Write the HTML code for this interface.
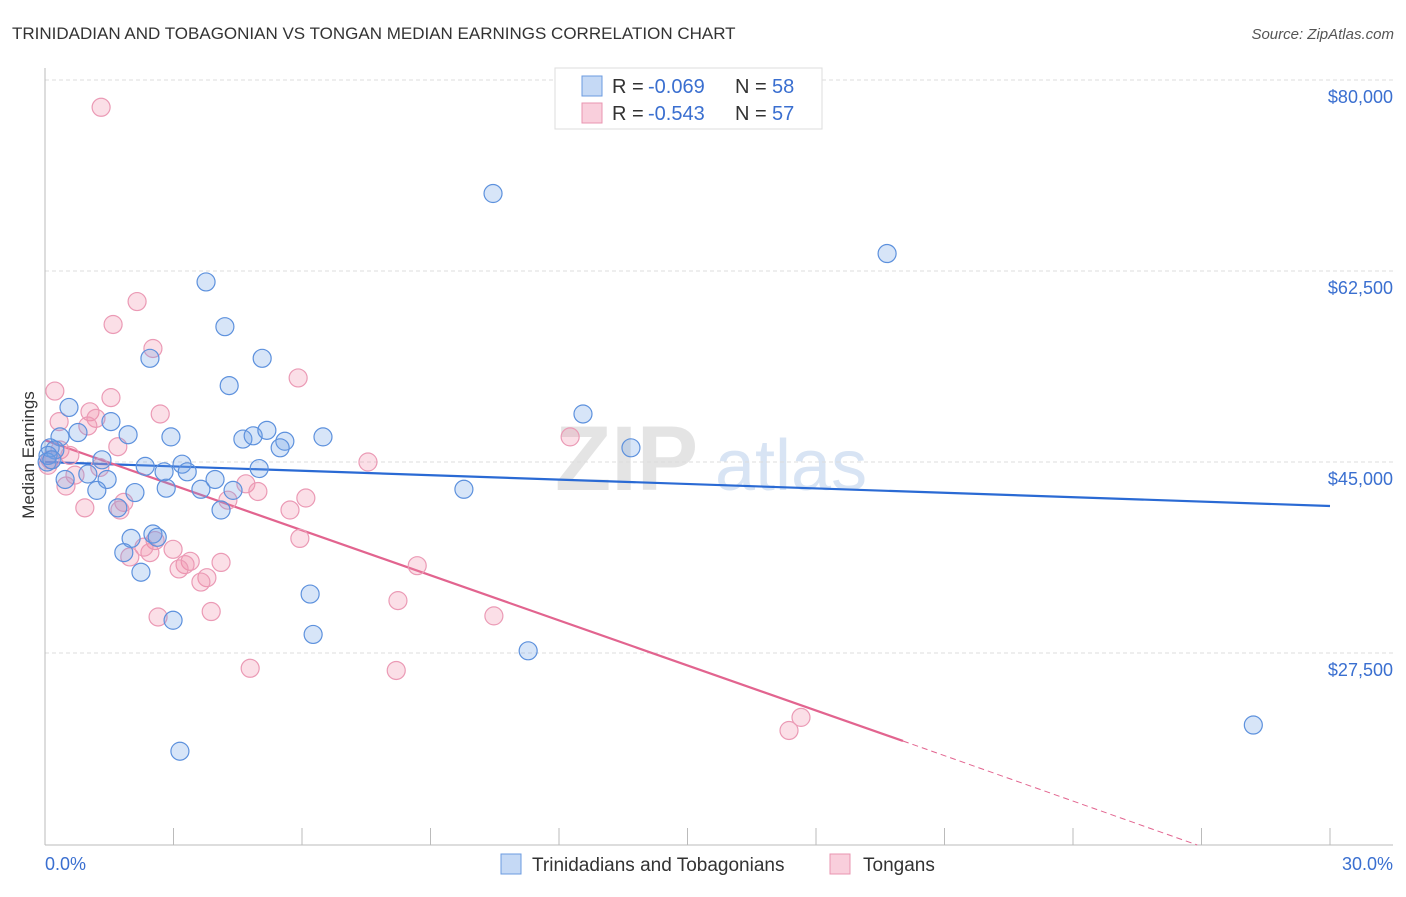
<!DOCTYPE html>
<html><head><meta charset="utf-8"><style>
body{margin:0;background:#fff;font-family:"Liberation Sans",sans-serif}
svg text{font-family:"Liberation Sans",sans-serif}
</style></head><body>
<svg width="1406" height="892" viewBox="0 0 1406 892">
<text x="12" y="39" font-size="17" fill="#333">TRINIDADIAN AND TOBAGONIAN VS TONGAN MEDIAN EARNINGS CORRELATION CHART</text>
<text x="1394" y="39" font-size="15" fill="#555" text-anchor="end" font-style="italic">Source: ZipAtlas.com</text>
<g><text x="555" y="490" font-size="92" fill="#e4e4e4" font-family="Liberation Serif" font-weight="bold">ZIP</text><text x="715" y="490" font-size="72" fill="#d8e4f4">atlas</text></g>
<g id="grid"></g><g id="axes"></g><g id="lines"></g><g id="pts"></g>
<text transform="translate(34,455) rotate(-90)" font-size="17" fill="#333" text-anchor="middle">Median Earnings</text>
<text x="45" y="870" font-size="18" fill="#3a6fd0">0.0%</text>
<text x="1393" y="870" font-size="18" fill="#3a6fd0" text-anchor="end">30.0%</text>
<g>
<rect x="555" y="68" width="267" height="61" fill="#fff" stroke="#ddd"/>
<rect x="582" y="76" width="20" height="20" fill="#c5d9f5" stroke="#6b9be0"/>
<rect x="582" y="103" width="20" height="20" fill="#f9cfdc" stroke="#e994b0"/>
<text x="612" y="93" font-size="20" fill="#333">R =</text>
<text x="648" y="93" font-size="20" fill="#3a6fd0">-0.069</text>
<text x="735" y="93" font-size="20" fill="#333">N =</text>
<text x="772" y="93" font-size="20" fill="#3a6fd0">58</text>
<text x="612" y="120" font-size="20" fill="#333">R =</text>
<text x="648" y="120" font-size="20" fill="#3a6fd0">-0.543</text>
<text x="735" y="120" font-size="20" fill="#333">N =</text>
<text x="772" y="120" font-size="20" fill="#3a6fd0">57</text>
</g>
<g>
<rect x="501" y="854" width="20" height="20" fill="#c5d9f5" stroke="#6b9be0"/>
<text x="532" y="871" font-size="19" fill="#333">Trinidadians and Tobagonians</text>
<rect x="830" y="854" width="20" height="20" fill="#f9cfdc" stroke="#e994b0"/>
<text x="863" y="871" font-size="19" fill="#333">Tongans</text>
</g>
</svg>
<script>
const yTicks=[80000,62500,45000,27500];
const yTickLabels=["$80,000","$62,500","$45,000","$27,500"];
const blueX=[10.46,19.66,3.76,4.20,2.45,5.07,4.30,0.56,1.54,12.56,1.94,0.77,0.35,2.94,4.62,4.86,5.18,5.60,5.49,6.49,13.68,0.12,0.23,1.33,2.34,3.20,2.78,3.32,5.00,1.00,1.45,0.47,3.97,4.39,2.83,3.64,1.21,2.10,9.78,1.70,4.11,2.52,2.01,2.62,1.84,2.24,6.19,2.99,6.26,11.28,28.21,3.15,0.05,0.07,0.16];
const blueY=[69600,64100,61500,57400,54500,54500,52000,50000,48700,49400,47500,47700,47300,47300,47100,47400,47900,46900,46300,47300,46300,46300,46100,45200,44600,44800,44100,44100,44400,43900,43400,43400,43400,42400,42600,42500,42400,42200,42500,40800,40600,38400,38000,38100,36700,34900,32900,30500,29200,27700,20900,18500,45000,45600,45200];
const pinkX=[1.31,2.15,1.59,2.52,5.91,0.23,1.54,0.33,1.05,1.19,2.69,1.00,0.35,0.58,1.70,12.26,7.54,0.70,0.49,0.93,1.84,1.75,4.69,4.97,4.27,6.09,5.72,5.95,2.57,2.99,2.45,1.98,2.31,3.39,3.27,4.11,3.13,3.78,3.64,2.64,3.88,8.69,8.24,10.48,4.79,8.20,17.65,17.37,0.12,0.07,1.28];
const pinkY=[77500,59700,57600,55400,52700,51500,50900,48700,49600,49000,49400,48300,46100,45600,46400,47300,45000,43800,42800,40800,41300,40600,43000,42300,41500,41700,40600,38000,37800,37000,36700,36300,37200,35900,35600,35800,35200,34400,34000,30800,31300,35500,32300,30900,26100,25900,21600,20400,45200,44700,44500];
const blueTrend=[[0,45000],[30,40970]];
const pinkTrendSolid=[[0,47000],[20.03,19440]];
const pinkTrendDash=[[20.03,19440],[26.9,9910]];
const xTicks=[0,3,6,9,12,15,18,21,24,27,30];
const X=v=>45+v/30*1285, Y=v=>80+(80000-v)*191/17500;
const NS="http://www.w3.org/2000/svg";
function mk(t,a,p){const e=document.createElementNS(NS,t);for(const k in a)e.setAttribute(k,a[k]);p.appendChild(e);return e;}
const grid=document.getElementById('grid'),axes=document.getElementById('axes'),lines=document.getElementById('lines'),pts=document.getElementById('pts');
yTicks.forEach((v,i)=>{
 const l=mk('line',{x1:45,x2:1393,y1:Y(v),y2:Y(v),stroke:'#ddd','stroke-dasharray':'4,3'},grid);
 
 
 const t=mk('text',{x:1393,y:Y(v)+23,'font-size':18,fill:'#3a6fd0','text-anchor':'end'},grid);
 t.textContent=yTickLabels[i];
 
 
});
const ya=mk('line',{x1:45,x2:45,y1:68,y2:845,stroke:'#bbb'},axes);


const xa=mk('line',{x1:45,x2:1393,y1:845,y2:845,stroke:'#bbb'},axes);


xTicks.forEach(v=>{
 const t=mk('line',{x1:X(v),x2:X(v),y1:828,y2:845,stroke:'#bbb'},axes);
 
 
});
function pt(x,y,fill,stroke,name){
 const c=mk('circle',{cx:X(x),cy:Y(y),r:9,fill:fill,stroke:stroke,'stroke-width':1.2},pts);
 
 
}
pinkX.forEach((x,i)=>pt(x,pinkY[i],'rgba(240,140,170,0.28)','#eb9ab5','tongan-point'));
blueX.forEach((x,i)=>pt(x,blueY[i],'rgba(110,160,230,0.28)','#5d91dd','trinidadian-point'));
const bl=mk('line',{x1:X(blueTrend[0][0]),y1:Y(blueTrend[0][1]),x2:X(blueTrend[1][0]),y2:Y(blueTrend[1][1]),stroke:'#2a6ad4','stroke-width':2.2},lines);


const pl=mk('line',{x1:X(pinkTrendSolid[0][0]),y1:Y(pinkTrendSolid[0][1]),x2:X(pinkTrendSolid[1][0]),y2:Y(pinkTrendSolid[1][1]),stroke:'#e2648f','stroke-width':2.2},lines);


const pd=mk('line',{x1:X(pinkTrendDash[0][0]),y1:Y(pinkTrendDash[0][1]),x2:X(pinkTrendDash[1][0]),y2:Y(pinkTrendDash[1][1]),stroke:'#e2648f','stroke-width':1,'stroke-dasharray':'6,4'},lines);


</script>
</body></html>
